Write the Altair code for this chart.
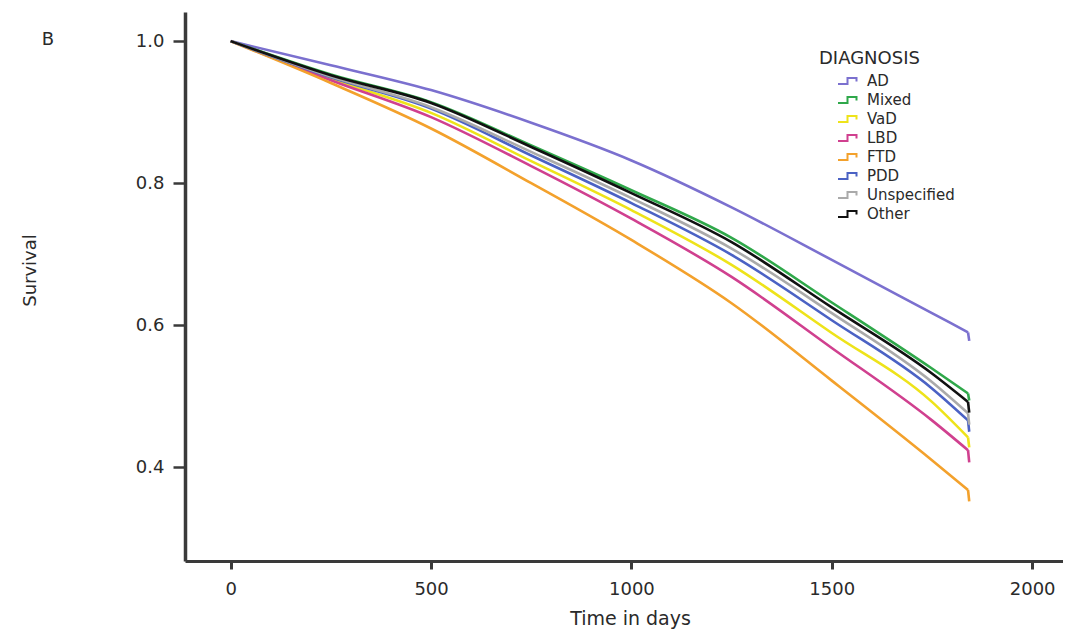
import altair as alt
import pandas as pd

# ---- data ----
diagnoses = ["AD", "Mixed", "VaD", "LBD", "FTD", "PDD", "Unspecified", "Other"]
colors = ["#7B70CF", "#2FA84A", "#EEE31A", "#D0408F", "#F3A12C", "#4B62C4", "#AAAAAA", "#111111"]

days = [0, 250, 500, 750, 1000, 1250, 1500, 1750, 1840, 1843]
ad = [1.0, 0.966, 0.931, 0.885, 0.832, 0.766, 0.692, 0.617, 0.590, 0.578]
mixed = [1.0, 0.953, 0.914, 0.853, 0.790, 0.723, 0.632, 0.539, 0.504, 0.494]
vad = [1.0, 0.947, 0.899, 0.831, 0.762, 0.685, 0.589, 0.492, 0.442, 0.428]
lbd = [1.0, 0.945, 0.893, 0.824, 0.750, 0.668, 0.568, 0.466, 0.424, 0.407]
ftd = [1.0, 0.941, 0.877, 0.800, 0.720, 0.631, 0.522, 0.410, 0.368, 0.352]
pdd = [1.0, 0.949, 0.905, 0.839, 0.772, 0.699, 0.607, 0.511, 0.466, 0.450]
unspec = [1.0, 0.950, 0.907, 0.844, 0.779, 0.708, 0.617, 0.520, 0.476, 0.460]
other = [1.0, 0.952, 0.913, 0.851, 0.786, 0.717, 0.625, 0.532, 0.492, 0.477]

x_ticks = [0, 500, 1000, 1500, 2000]
y_ticks = [0.4, 0.6, 0.8, 1.0]

series = [ad, mixed, vad, lbd, ftd, pdd, unspec, other]
rows = []
for name, vals in zip(diagnoses, series):
    for i, (d, v) in enumerate(zip(days, vals)):
        rows.append({"diagnosis": name, "day": d, "survival": v, "idx": i})
df = pd.DataFrame(rows)
last = len(days) - 1

FONT = "DejaVu Sans"
TXT = "#2a2a2a"
step_symbol = "M-1,0.3H-0.05V-0.3H0.85V0.05"

x_enc = alt.X("day:Q",
              scale=alt.Scale(domain=[-114, 2077], nice=False, zero=False),
              axis=alt.Axis(values=x_ticks, title="Time in days", format="d",
                            titleX=445, titleY=57, titleAlign="center",
                            titleBaseline="middle", titleFontSize=19,
                            titleFontWeight="normal", labelFontSize=18,
                            labelPadding=11, tickSize=8, tickWidth=3,
                            domainWidth=3, domainColor="#3a3a3a",
                            tickColor="#3a3a3a", labelColor=TXT,
                            titleColor=TXT, grid=False))
y_enc = alt.Y("survival:Q",
              scale=alt.Scale(domain=[0.268, 1.041], nice=False, zero=False),
              axis=alt.Axis(values=y_ticks, title="Survival", format=".1f",
                            titleX=-155, titleY=258, titleAlign="center",
                            titleBaseline="middle", titleAngle=-90,
                            titleFontSize=18, titleFontWeight="normal",
                            labelFontSize=18, labelPadding=9, tickSize=12,
                            tickWidth=2.5, domainWidth=3.5,
                            domainColor="#3a3a3a", tickColor="#3a3a3a",
                            labelColor=TXT, titleColor=TXT, grid=False))
c_enc = alt.Color("diagnosis:N",
                  scale=alt.Scale(domain=diagnoses, range=colors),
                  sort=diagnoses,
                  legend=alt.Legend(title="DIAGNOSIS", orient="none",
                                    legendX=634, legendY=38,
                                    symbolType=step_symbol, symbolSize=400,
                                    symbolStrokeWidth=2, symbolOffset=18,
                                    labelFontSize=15, titleFontSize=18,
                                    titleFontWeight="normal", labelOffset=8,
                                    rowPadding=-5.7, titlePadding=2,
                                    labelColor=TXT, titleColor=TXT))

base = alt.Chart(df)
curves = base.transform_filter(alt.datum.idx < last).mark_line(
    strokeWidth=2.6, interpolate="monotone"
).encode(x=x_enc, y=y_enc, color=c_enc, detail="diagnosis:N", order="idx:Q")

drops = base.transform_filter(alt.datum.idx >= last - 1).mark_line(
    strokeWidth=2.6, interpolate="linear"
).encode(x="day:Q", y="survival:Q", color=alt.Color("diagnosis:N", legend=None),
         detail="diagnosis:N", order="idx:Q")

label_b = alt.Chart(pd.DataFrame({"t": ["B"]})).mark_text(
    fontSize=18, font=FONT, color=TXT, align="center", baseline="middle"
).encode(text="t:N", x=alt.value(-137), y=alt.value(28))

chart = alt.layer(curves, drops, label_b).properties(
    width=878, height=549,
    autosize=alt.AutoSizeParams(type="none"),
    padding={"left": 177, "top": 4, "right": 0, "bottom": 72},
).configure(font=FONT).configure_view(strokeWidth=0, stroke="transparent").configure_axis(grid=False)

chart.save("out.html", embed_options={"renderer": "svg", "actions": False})
